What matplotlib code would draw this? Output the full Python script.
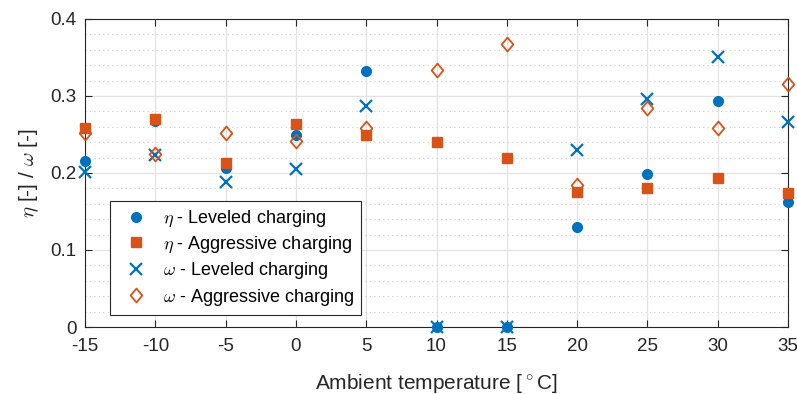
import numpy as np
import matplotlib.pyplot as plt
from matplotlib.path import Path
from matplotlib.ticker import MultipleLocator

plt.rcParams['font.family'] = ['Liberation Sans', 'DejaVu Sans']
plt.rcParams['mathtext.fontset'] = 'cm'

temp = [-15, -10, -5, 0, 5, 10, 15, 20, 25, 30, 35]
eta_lev = [0.215, 0.268, 0.207, 0.249, 0.332, 0.0, 0.0, 0.130, 0.199, 0.293, 0.162]
eta_agg = [0.259, 0.270, 0.213, 0.263, 0.249, 0.240, 0.220, 0.175, 0.180, 0.194, 0.174]
om_lev = [0.201, 0.223, 0.188, 0.205, 0.287, 0.0, 0.0, 0.230, 0.296, 0.351, 0.266]
om_agg = [0.252, 0.225, 0.252, 0.242, 0.259, 0.334, 0.368, 0.184, 0.284, 0.258, 0.315]

blue = '#0072BD'
orange = '#D95319'

# matlab style diamond (a bit taller than wide)
diamond = Path([(0, 0.5), (0.42, 0), (0, -0.5), (-0.42, 0), (0, 0.5)],
               [Path.MOVETO, Path.LINETO, Path.LINETO, Path.LINETO, Path.CLOSEPOLY])

fig = plt.figure(figsize=(7.97, 3.94), dpi=100)
ax = fig.add_axes([0.1067, 0.170, 0.882, 0.782])

ax.plot(temp, eta_lev, 'o', color=blue, ms=7, ls='none', clip_on=False, zorder=3,
        label=r'$\eta$ - Leveled charging')
ax.plot(temp, eta_agg, 's', color=orange, ms=7, ls='none', clip_on=False, zorder=3,
        label=r'$\eta$ - Aggressive charging')
ax.plot(temp, om_lev, 'x', color=blue, ms=9, mew=1.6, ls='none', clip_on=False, zorder=3,
        label=r'$\omega$ - Leveled charging')
ax.plot(temp, om_agg, marker=diamond, mfc='none', mec=orange, ms=10, mew=1.3, ls='none',
        clip_on=False, zorder=3, label=r'$\omega$ - Aggressive charging')

ax.set_xlim(-15, 35)
ax.set_ylim(0, 0.4)
ax.set_xticks(np.arange(-15, 36, 5))
ax.set_xticklabels([str(t) for t in range(-15, 36, 5)])
ax.set_yticks([0, 0.1, 0.2, 0.3, 0.4])
ax.set_yticklabels(['0', '0.1', '0.2', '0.3', '0.4'])
ax.yaxis.set_minor_locator(MultipleLocator(0.02))

ax.grid(True, which='major', color='#e3e3e3', lw=0.9)
ax.grid(True, which='minor', axis='y', color='#d0d0d0', lw=0.8, ls=(0, (1, 3)))
ax.set_axisbelow(True)

ax.tick_params(which='both', direction='in', top=True, right=True, labelsize=13.5,
               colors='#262626', length=5)
ax.tick_params(axis='x', pad=8)
ax.tick_params(axis='y', pad=6)
ax.tick_params(which='minor', length=0)
for s in ax.spines.values():
    s.set_color('#262626')
    s.set_linewidth(0.8)

ax.set_xlabel(r'Ambient temperature [$^\circ$C]', fontsize=15, color='#262626', labelpad=12)
ax.set_ylabel(r'$\eta$ [-] / $\omega$ [-]', fontsize=15, color='#262626', labelpad=7)

leg = ax.legend(loc='lower left', bbox_to_anchor=(0.036, 0.039), borderaxespad=0,
                fontsize=13, fancybox=False, edgecolor='#262626', framealpha=1,
                handletextpad=0.5, labelspacing=0.3, borderpad=0.4)
leg.get_frame().set_linewidth(0.8)

plt.savefig('out.png', dpi=100)
